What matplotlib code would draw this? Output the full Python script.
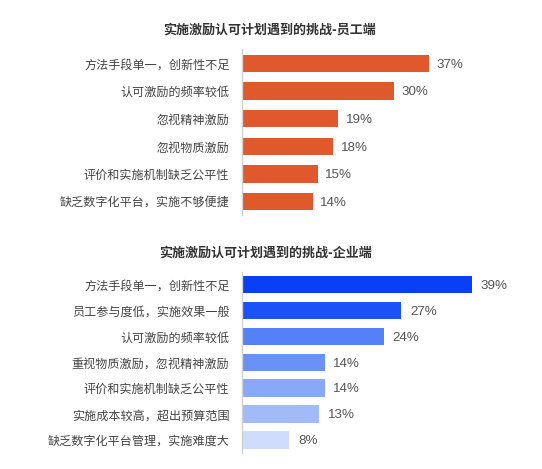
import matplotlib
matplotlib.use("Agg")
import matplotlib.pyplot as plt

plt.rcParams['font.family'] = ['Noto Sans CJK SC', 'DejaVu Sans']

# employee side
emp_title = "实施激励认可计划遇到的挑战-员工端"
emp_labels = ["方法手段单一，创新性不足", "认可激励的频率较低", "忽视精神激励",
              "忽视物质激励", "评价和实施机制缺乏公平性", "缺乏数字化平台，实施不够便捷"]
emp_values = [37, 30, 19, 18, 15, 14]

# company side
ent_title = "实施激励认可计划遇到的挑战-企业端"
ent_labels = ["方法手段单一，创新性不足", "员工参与度低，实施效果一般", "认可激励的频率较低",
              "重视物质激励，忽视精神激励", "评价和实施机制缺乏公平性",
              "实施成本较高，超出预算范围", "缺乏数字化平台管理，实施难度大"]
ent_values = [39, 27, 24, 14, 14, 13, 8]

ORANGE = "#e0592c"
BLUES = ["#0a40f5", "#1a52f5", "#5581f8", "#6b90f8", "#8aa8fa", "#a2b9fa", "#d0dcfc"]

W, H = 542, 469
fig = plt.figure(figsize=(W / 100, H / 100), dpi=100)


def px_axes(left, top, width, height):
    # axes placed with pixel coords measured from the top left
    return fig.add_axes([left / W, 1 - (top + height) / H, width / W, height / H])


def draw(ax, labels, values, colors, bar_h):
    n = len(values)
    ys = range(n)
    ax.barh(ys, values, height=bar_h, color=colors, edgecolor="none")
    ax.set_ylim(n - 0.5, -0.5)
    ax.set_xlim(0, 40)
    for y, v in zip(ys, values):
        # nudge down a bit, latin font sits high with va=center
        ax.text(v + 1.5, y + 0.05, f"{v}%", va="center", ha="left", fontsize=9.6,
                color="#555555", family=["Liberation Sans", "DejaVu Sans"])
    ax.set_yticks(list(ys))
    ax.set_yticklabels(labels, fontsize=8.7, color="#444444")
    ax.tick_params(axis="y", length=0, pad=9)
    ax.set_xticks([])
    for s in ["top", "right", "bottom"]:
        ax.spines[s].set_visible(False)
    ax.spines["left"].set_color("#d0d0d0")
    ax.spines["left"].set_linewidth(1)


ax1 = px_axes(242, 49.5, 202, 166)
draw(ax1, emp_labels, emp_values, ORANGE, 0.63)
fig.text(269 / W, 1 - 30 / H, emp_title, ha="center", va="center",
         fontsize=9.4, fontweight="bold", color="#333333")

ax2 = px_axes(242, 271.5, 236, 181.5)
draw(ax2, ent_labels, ent_values, BLUES, 0.67)
fig.text(266 / W, 1 - 253 / H, ent_title, ha="center", va="center",
         fontsize=9.4, fontweight="bold", color="#333333")

fig.savefig("out.png", dpi=100)
